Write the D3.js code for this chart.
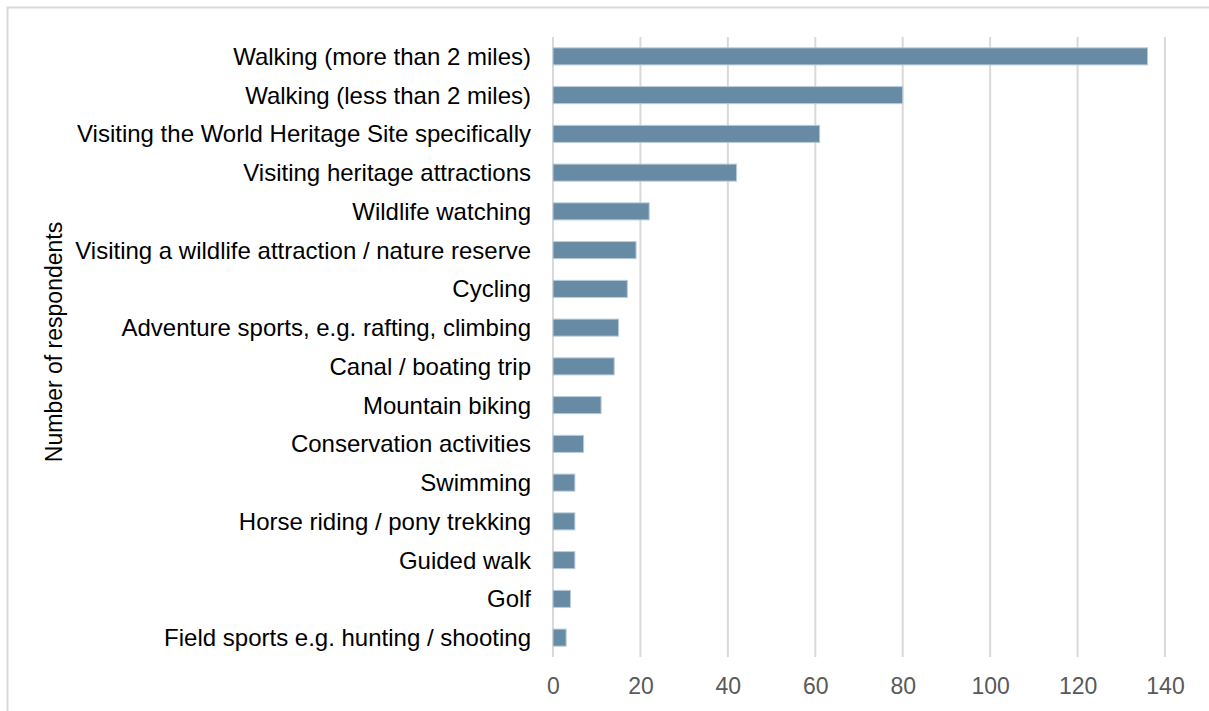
<!DOCTYPE html>
<html><head><meta charset="utf-8">
<script src="https://cdn.jsdelivr.net/npm/d3@7"></script>
<style>body{margin:0;background:#fff}svg{display:block}</style>
</head><body>
<svg id="chart" width="1209" height="711"></svg>
<script>
const categories = [
  "Walking (more than 2 miles)",
  "Walking (less than 2 miles)",
  "Visiting the World Heritage Site specifically",
  "Visiting heritage attractions",
  "Wildlife watching",
  "Visiting a wildlife attraction / nature reserve",
  "Cycling",
  "Adventure sports, e.g. rafting, climbing",
  "Canal / boating trip",
  "Mountain biking",
  "Conservation activities",
  "Swimming",
  "Horse riding / pony trekking",
  "Guided walk",
  "Golf",
  "Field sports e.g. hunting / shooting"
];
const values = [136, 80, 61, 42, 22, 19, 17, 15, 14, 11, 7, 5, 5, 5, 4, 3];
const xTicks = [0, 20, 40, 60, 80, 100, 120, 140];
const axisTitle = "Number of respondents";

(function () {
const svg = d3.select("#chart");
const font = "'Liberation Sans', Arial, sans-serif";

// outer frame
svg.append("rect").attr("x", 7.5).attr("y", 7.5).attr("width", 1300).attr("height", 800)
  .attr("fill", "none").attr("stroke", "#d9d9d9").attr("stroke-width", 2);

const pLeft = 553, pRight = 1165, pTop = 37, pBottom = 657;
const x = d3.scaleLinear().domain([0, 140]).range([pLeft, pRight]);
const y = d3.scaleBand().domain(categories).range([pTop, pBottom]).paddingInner(0.56).paddingOuter(0.28);

// gridlines
svg.append("g").selectAll("line").data(xTicks).join("line")
  .attr("x1", d => x(d)).attr("x2", d => x(d))
  .attr("y1", pTop).attr("y2", pBottom)
  .attr("stroke", "#d9d9d9").attr("stroke-width", 2);

// bars
svg.append("g").selectAll("rect").data(values).join("rect")
  .attr("x", x(0))
  .attr("y", (d, i) => y(categories[i]))
  .attr("width", d => x(d) - x(0))
  .attr("height", y.bandwidth())
  .attr("fill", "#678ba4")
  .attr("stroke", "#b9cbd8").attr("stroke-width", 1);

// x axis
const xAxis = d3.axisBottom(x).tickValues(xTicks).tickSize(0).tickPadding(0);
const gx = svg.append("g").attr("transform", `translate(0,${pBottom})`).call(xAxis);
gx.select(".domain").remove();
gx.selectAll("text").attr("font-family", font).attr("font-size", 23)
  .attr("fill", "#595959").attr("dy", null).attr("y", 37);

// y axis labels
const yAxis = d3.axisLeft(y).tickSize(0).tickPadding(0);
const gy = svg.append("g").attr("transform", `translate(531,0)`).call(yAxis);
gy.select(".domain").remove();
gy.selectAll("text").attr("font-family", font).attr("font-size", 24)
  .attr("fill", "#000").attr("dy", "0.35em");

// axis title
svg.append("text").attr("transform", `translate(62,342) rotate(-90)`)
  .attr("text-anchor", "middle").attr("font-family", font).attr("font-size", 23)
  .attr("fill", "#000").text(axisTitle);
})();
</script>
</body></html>
